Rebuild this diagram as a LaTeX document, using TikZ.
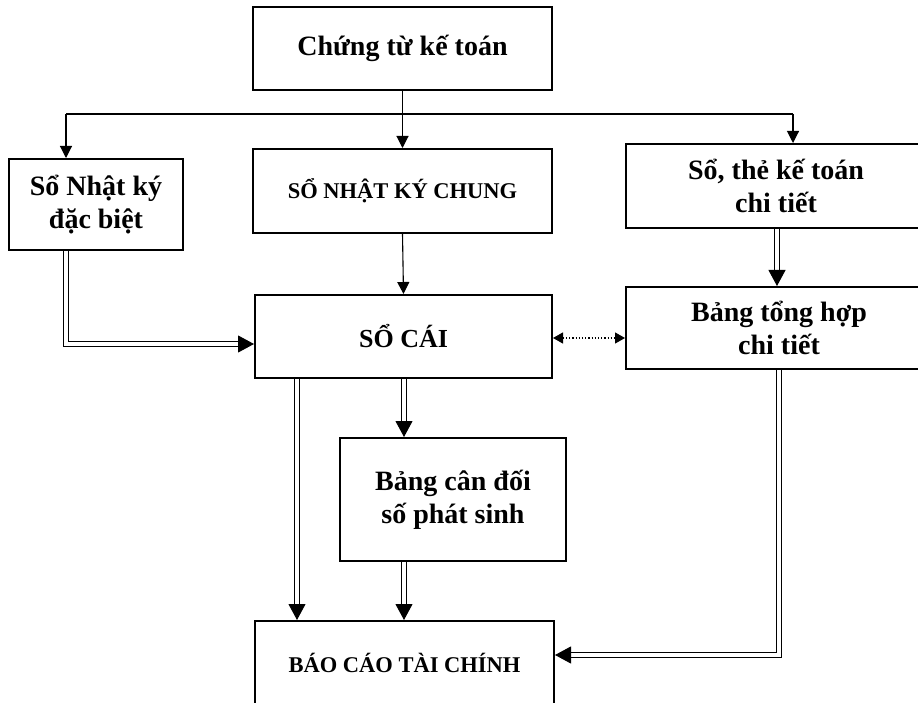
\documentclass[tikz,border=0pt]{standalone}
\usepackage{fontspec}
\setmainfont{Liberation Serif}
\usetikzlibrary{arrows.meta}
\begin{document}
\begin{tikzpicture}[x=1pt,y=-1pt,
  box/.style={draw,line width=2pt,align=center,inner sep=0pt,
    font=\bfseries\fontsize{28}{33}\selectfont},
  capbox/.style={box,font=\bfseries\fontsize{22.5}{27}\selectfont},
  arr/.style={line width=1.1pt,-{Triangle[length=12pt,width=12pt]}},
  darr/.style={line width=1pt,double,double distance=3.5pt,-{Triangle[length=16pt,width=17pt]}},
  dotarr/.style={line width=1.2pt,dotted,{Triangle[length=10pt,width=11pt]}-{Triangle[length=10pt,width=11pt]}}]
\useasboundingbox (0,0) rectangle (918,703);
\clip (0,0) rectangle (918,703);
\node[box,minimum width=299pt,minimum height=83pt] (ctu) at (402.5,48.5) {Chứng từ kế toán};
\node[box,minimum width=174pt,minimum height=91pt] (nkdb) at (96,204.5) {Sổ Nhật ký\\đặc biệt};
\node[capbox,minimum width=299pt,minimum height=84pt] (nkc) at (402.5,191) {SỔ NHẬT KÝ CHUNG};
\node[box,minimum width=300pt,minimum height=84pt] (stkt) at (776,186) {Sổ, thẻ kế toán\\chi tiết};
\node[box,minimum width=297pt,minimum height=83pt,font=\bfseries\fontsize{26}{31}\selectfont] (socai) at (403.5,336.5) {SỔ CÁI};
\node[box,minimum width=306pt,minimum height=82pt] (bth) at (779,328) {Bảng tổng hợp\\chi tiết};
\node[box,minimum width=226pt,minimum height=123pt] (bcd) at (453,499.5) {Bảng cân đối\\số phát sinh};
\node[capbox,minimum width=299pt,minimum height=84pt] (bctc) at (404.5,663) {BÁO CÁO TÀI CHÍNH};
% top distribution
\coordinate (hl) at (66,114);
\coordinate (hr) at (793,114);
\draw[line width=1.1pt] (hl) -- (hr);
\draw[line width=1.1pt] (ctu.south) -- (ctu.south |- hl);
\draw[arr] (ctu.south |- hl) -- (nkc.north);
\draw[arr] (hl) -- (hl |- nkdb.north);
\draw[arr] (hr) -- (hr |- stkt.north);
% middle
\draw[arr] (nkc.south) -- (socai.north);
\coordinate (c1) at (66,344);
\draw[darr] (c1 |- nkdb.south) -- (c1) -- (socai.west |- c1);
\coordinate (c2) at (777,0);
\draw[darr] (c2 |- stkt.south) -- (c2 |- bth.north);
\draw[dotarr] (socai.east |- 0,338) -- (bth.west |- 0,338);
% lower
\coordinate (c3) at (297,0);
\draw[darr] (c3 |- socai.south) -- (c3 |- bctc.north);
\coordinate (c4) at (404,0);
\draw[darr] (c4 |- socai.south) -- (c4 |- bcd.north);
\draw[darr] (c4 |- bcd.south) -- (c4 |- bctc.north);
\coordinate (c5) at (779,655);
\draw[darr] (c5 |- bth.south) -- (c5) -- (bctc.east |- c5);
\end{tikzpicture}
\end{document}
